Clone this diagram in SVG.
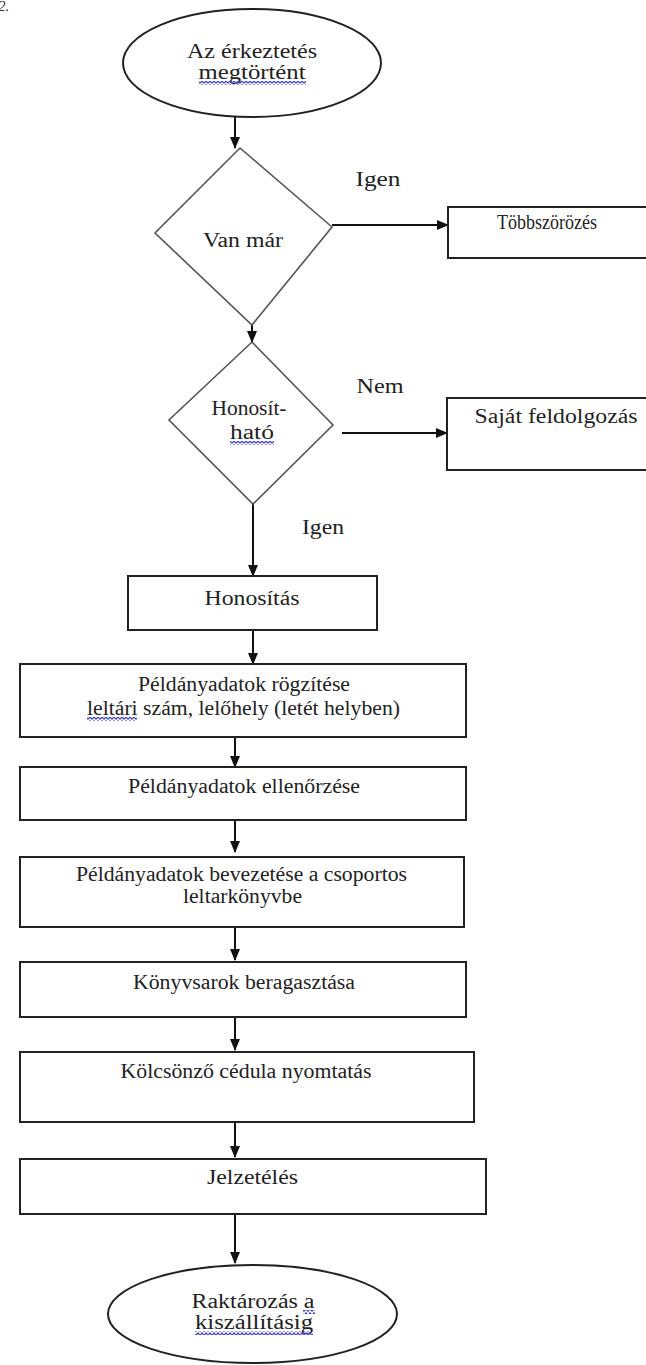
<svg xmlns="http://www.w3.org/2000/svg" width="646" height="1365" viewBox="0 0 646 1365">
<style>
.t{font-family:"Liberation Serif","Times New Roman",serif;font-size:20px;fill:#222;text-anchor:middle;}
.box{fill:#fff;stroke:#222;stroke-width:2;}
.dia{fill:#fff;stroke:#555;stroke-width:1.6;}
.ell{fill:#fff;stroke:#222;stroke-width:2;}
.con{fill:none;stroke:#111;stroke-width:2;}
</style>
<defs>
<marker id="arr" markerUnits="userSpaceOnUse" markerWidth="12" markerHeight="10" refX="11" refY="5" orient="auto">
<path d="M0,0 L12,5 L0,10 Z" fill="#111"/>
</marker>
<pattern id="wave" patternUnits="userSpaceOnUse" width="4" height="4">
<path d="M0,3.5 L2,0.8 L4,3.5" fill="none" stroke="#3a3ad0" stroke-width="1.2"/>
</pattern>
</defs>
<rect width="646" height="1365" fill="#fff"/>
<text x="-2" y="11" style="font-family:'Liberation Serif',serif;font-size:15px;font-style:italic;fill:#333">2.</text>

<g id="connectors">
<line class="con" x1="235" y1="117" x2="235" y2="148" marker-end="url(#arr)"/>
<line class="con" x1="332" y1="225" x2="448" y2="225" marker-end="url(#arr)"/>
<line class="con" x1="252" y1="325" x2="252" y2="342" marker-end="url(#arr)"/>
<line class="con" x1="342" y1="433" x2="447" y2="433" marker-end="url(#arr)"/>
<line class="con" x1="253" y1="504" x2="253" y2="576" marker-end="url(#arr)"/>
<line class="con" x1="253" y1="630" x2="253" y2="664" marker-end="url(#arr)"/>
<line class="con" x1="235" y1="737" x2="235" y2="767" marker-end="url(#arr)"/>
<line class="con" x1="235" y1="820" x2="235" y2="852" marker-end="url(#arr)"/>
<line class="con" x1="235" y1="927" x2="235" y2="960" marker-end="url(#arr)"/>
<line class="con" x1="235" y1="1017" x2="235" y2="1050" marker-end="url(#arr)"/>
<line class="con" x1="235" y1="1122" x2="235" y2="1157" marker-end="url(#arr)"/>
<line class="con" x1="235" y1="1214" x2="235" y2="1263" marker-end="url(#arr)"/>
<text class="t" x="378" y="186" textLength="45" lengthAdjust="spacingAndGlyphs">Igen</text>
<text class="t" x="380" y="393" textLength="47" lengthAdjust="spacingAndGlyphs">Nem</text>
<text class="t" x="323" y="534" textLength="42" lengthAdjust="spacingAndGlyphs">Igen</text>
</g>

<g id="start">
<ellipse class="ell" cx="252" cy="63" rx="129" ry="54"/>
<text class="t" x="252" y="58" textLength="130" lengthAdjust="spacingAndGlyphs">Az érkeztetés</text>
<text class="t" x="252" y="79" textLength="107" lengthAdjust="spacingAndGlyphs">megtörtént</text>
<rect x="199" y="81" width="107" height="4" fill="url(#wave)"/>
</g>

<g id="van-mar">
<polygon class="dia" points="240,148 332,227 252,325 155,233"/>
<text class="t" x="243" y="247" textLength="80" lengthAdjust="spacingAndGlyphs">Van már</text>
</g>

<g id="tobbszorozes">
<rect class="box" x="448" y="207" width="210" height="51"/>
<text class="t" x="547" y="229" textLength="100" lengthAdjust="spacingAndGlyphs">Többszörözés</text>
</g>

<g id="honosithato">
<polygon class="dia" points="252,342 333,425 253,504 169,420"/>
<text class="t" x="249" y="415" textLength="75" lengthAdjust="spacingAndGlyphs">Honosít-</text>
<text class="t" x="252" y="439" textLength="44" lengthAdjust="spacingAndGlyphs">ható</text>
<rect x="230" y="441" width="44" height="4" fill="url(#wave)"/>
</g>

<g id="sajat">
<rect class="box" x="447" y="398" width="210" height="72"/>
<text class="t" x="556" y="423" textLength="163" lengthAdjust="spacingAndGlyphs">Saját feldolgozás</text>
</g>

<g id="honositas">
<rect class="box" x="128" y="576" width="249" height="54"/>
<text class="t" x="252" y="605" textLength="95" lengthAdjust="spacingAndGlyphs">Honosítás</text>
</g>

<g id="rogzites">
<rect class="box" x="20" y="664" width="446" height="73"/>
<text class="t" x="244" y="691" textLength="212" lengthAdjust="spacingAndGlyphs">Példányadatok rögzítése</text>
<text class="t" x="243.5" y="715" textLength="313" lengthAdjust="spacingAndGlyphs">leltári szám, lelőhely (letét helyben)</text>
<rect x="87" y="717" width="50" height="4" fill="url(#wave)"/>
</g>

<g id="ellenorzes">
<rect class="box" x="20" y="767" width="446" height="53"/>
<text class="t" x="244" y="793" textLength="232" lengthAdjust="spacingAndGlyphs">Példányadatok ellenőrzése</text>
</g>

<g id="bevezetes">
<rect class="box" x="20" y="857" width="444" height="70"/>
<text class="t" x="241.5" y="881" textLength="331" lengthAdjust="spacingAndGlyphs">Példányadatok bevezetése a csoportos</text>
<text class="t" x="242.5" y="903" textLength="119" lengthAdjust="spacingAndGlyphs">leltarkönyvbe</text>
</g>

<g id="konyvsarok">
<rect class="box" x="20" y="962" width="446" height="55"/>
<text class="t" x="244" y="989" textLength="222" lengthAdjust="spacingAndGlyphs">Könyvsarok beragasztása</text>
</g>

<g id="kolcsonzo">
<rect class="box" x="20" y="1052" width="454" height="70"/>
<text class="t" x="246" y="1078" textLength="251" lengthAdjust="spacingAndGlyphs">Kölcsönző cédula nyomtatás</text>
</g>

<g id="jelzeteles">
<rect class="box" x="20" y="1159" width="466" height="55"/>
<text class="t" x="252.5" y="1184" textLength="91" lengthAdjust="spacingAndGlyphs">Jelzetélés</text>
</g>

<g id="end">
<ellipse class="ell" cx="252.5" cy="1314" rx="144.5" ry="49"/>
<text class="t" x="253" y="1308" textLength="123" lengthAdjust="spacingAndGlyphs">Raktározás a</text>
<text class="t" x="254" y="1329" textLength="118" lengthAdjust="spacingAndGlyphs">kiszállításig</text>
<rect x="303" y="1310" width="12" height="4" fill="url(#wave)"/>
<rect x="195" y="1331" width="118" height="4" fill="url(#wave)"/>
</g>
</svg>
